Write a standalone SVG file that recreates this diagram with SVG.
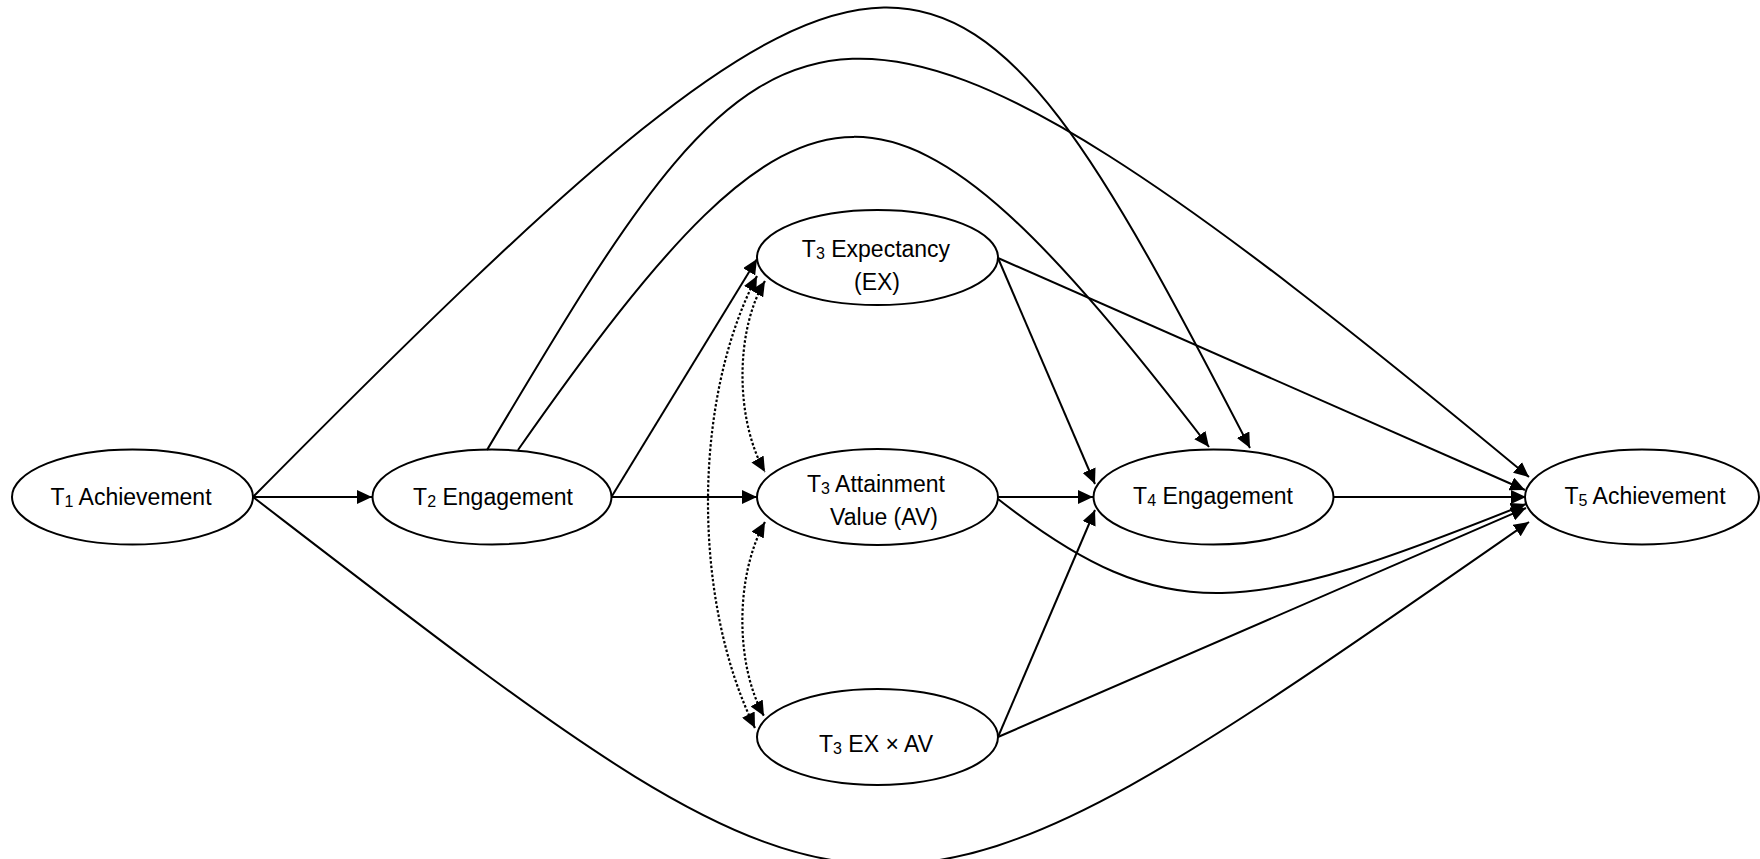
<svg xmlns="http://www.w3.org/2000/svg" width="1760" height="859" viewBox="0 0 1760 859">
<style>
.node ellipse{fill:#fff;stroke:#000;stroke-width:2}
.node text{font-family:"Liberation Sans",Arial,sans-serif;font-size:23px;fill:#000;text-anchor:middle}
.sub{font-size:16px}
.c{fill:none;stroke:#000;stroke-width:2;marker-end:url(#arr)}
.d{fill:none;stroke:#000;stroke-width:2.2;stroke-dasharray:2.5 2;marker-start:url(#arrd);marker-end:url(#arrd)}
</style>
<defs>
<marker id="arr" markerUnits="userSpaceOnUse" markerWidth="16" markerHeight="14" viewBox="0 0 16 14" refX="15" refY="7" orient="auto"><path d="M0,0 L15,7 L0,14 z" fill="#000"/></marker>
<marker id="arrd" markerUnits="userSpaceOnUse" markerWidth="16" markerHeight="14" viewBox="0 0 16 14" refX="15" refY="7" orient="auto-start-reverse"><path d="M0,0 L15,7 L0,14 z" fill="#000"/></marker>
</defs>
<rect width="1760" height="859" fill="#fff"/>
<g id="n-t1" class="node"><ellipse cx="132.5" cy="497" rx="120.5" ry="47.5"/><text x="131" y="505">T<tspan class="sub" dy="2">1</tspan><tspan dy="-2"> Achievement</tspan></text></g>
<g id="n-t2" class="node"><ellipse cx="492" cy="497" rx="119.5" ry="47.5"/><text x="493" y="505">T<tspan class="sub" dy="2">2</tspan><tspan dy="-2"> Engagement</tspan></text></g>
<g id="n-ex" class="node"><ellipse cx="877.5" cy="257.5" rx="120.5" ry="47.5"/><text x="876" y="257">T<tspan class="sub" dy="2">3</tspan><tspan dy="-2"> Expectancy</tspan></text><text x="877" y="290">(EX)</text></g>
<g id="n-av" class="node"><ellipse cx="877.5" cy="497" rx="120.5" ry="48"/><text x="876" y="492">T<tspan class="sub" dy="2">3</tspan><tspan dy="-2"> Attainment</tspan></text><text x="884" y="525">Value (AV)</text></g>
<g id="n-exav" class="node"><ellipse cx="877.5" cy="737" rx="120.5" ry="48"/><text x="876" y="752">T<tspan class="sub" dy="2">3</tspan><tspan dy="-2"> EX × AV</tspan></text></g>
<g id="n-t4" class="node"><ellipse cx="1213.5" cy="497" rx="120" ry="47.5"/><text x="1213" y="504">T<tspan class="sub" dy="2">4</tspan><tspan dy="-2"> Engagement</tspan></text></g>
<g id="n-t5" class="node"><ellipse cx="1642" cy="497" rx="117" ry="47.5"/><text x="1645" y="504">T<tspan class="sub" dy="2">5</tspan><tspan dy="-2"> Achievement</tspan></text></g>
<g id="connectors">
<path class="c" d="M253,497 L372,497"/>
<path class="c" d="M612,497 L757,497"/>
<path class="c" d="M998,497 L1093,497"/>
<path class="c" d="M1334,497 L1526,497"/>
<path class="c" d="M612,496 L757,259"/>
<path class="c" d="M998,258 L1095,484"/>
<path class="c" d="M998,258 L1525,490"/>
<path class="c" d="M998,737 L1095,510"/>
<path class="c" d="M998,737 L1526,508"/>
<path class="c" d="M253,497 C906,-163 950,-132 1250,448"/>
<path class="c" d="M487,450 C779,-40 820,-112 1529,477"/>
<path class="c" d="M518,450 C810,33 891,33 1209,447"/>
<path class="c" d="M253,497 C885,983 865,983 1529,522"/>
<path class="c" d="M998,499 C1168,632 1249,615 1526,504"/>
<path class="d" d="M757,276 C692,400 692,600 755,728"/>
<path class="d" d="M765,281 C735,330 735,420 765,472"/>
<path class="d" d="M765,522 C735,575 735,665 764,716"/>
</g>
</svg>
